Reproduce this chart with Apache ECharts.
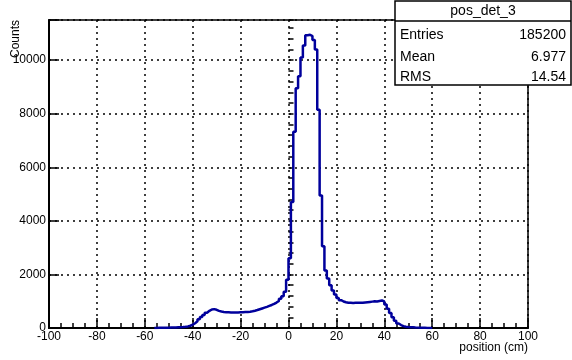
<!DOCTYPE html>
<html><head><meta charset="utf-8">
<script src="https://cdn.jsdelivr.net/npm/echarts@6/dist/echarts.min.js"></script>
<style>html,body{margin:0;padding:0;background:#fff}#c{width:572px;height:360px}</style>
</head><body><div id="c"></div>
<script>
// Histogram: 1 cm bins, lower edge of first listed bin
const firstBinLow = -56;
const binWidth = 1;
const counts = [
  3, 5, 6, 8, 10, 12, 15, 18, 20, 24,          // -56 .. -47
  28, 35, 45, 60, 85, 120, 180, 250, 330, 410,  // -46 .. -37
  490, 570, 640, 690, 705, 680, 640, 615, 600, 590, // -36 .. -27
  585, 580, 578, 582, 580, 585, 590, 595, 600, 610, // -26 .. -17
  625, 645, 670, 700, 730, 760, 790, 825, 860, 900, // -16 .. -7
  950, 1010, 1090, 1190, 1350, 1800,                // -6 .. -1
  2600, 4700, 7330, 8950, 9400, 10100, 10550, 10930, 10950, 10900, // 0 .. 9
  10750, 10400, 8150, 4950, 3050, 2150, 1850, 1600, 1400, 1250,    // 10 .. 19
  1120, 1040, 990, 960, 945, 940, 935, 940, 945, 940,  // 20 .. 29
  945, 955, 965, 975, 985, 995, 990, 1010, 1030, 990,  // 30 .. 39
  880, 720, 560, 400, 270, 170, 110, 70, 50, 38,       // 40 .. 49
  30, 24, 18, 14, 10, 7, 5, 3, 2, 1                    // 50 .. 59
];
const xMin = -100, xMax = 100, xStep = 20;
const yMin = 0, yMax = 11500, yStep = 2000, yMinorStep = 400;
const xTitle = 'position (cm)';
const yTitle = 'Counts';
const statsTitle = 'pos_det_3';
const statsLabels = ['Entries', 'Mean', 'RMS'];
const statsValues = ['185200', '6.977', '14.54'];

const pts = [[firstBinLow, 0]];
counts.forEach((c, i) => pts.push([firstBinLow + i * binWidth, c]));
const lastEdge = firstBinLow + counts.length * binWidth;
pts.push([lastEdge, counts[counts.length - 1]]);
pts.push([lastEdge, 0]);

const FONT = 'Liberation Sans, Arial, sans-serif';
const dotted = { color: '#000', width: 1.5, type: [2, 4] };

const chart = echarts.init(document.getElementById('c'), null, { renderer: 'canvas' });

const statsGraphics = [
  { type: 'rect', shape: { x: 395, y: 1, width: 176, height: 84 },
    style: { fill: '#fff', stroke: '#000', lineWidth: 1.5 }, z: 100 },
  { type: 'line', shape: { x1: 395, y1: 21, x2: 571, y2: 21 },
    style: { stroke: '#000', lineWidth: 1.5 }, z: 101 },
  { type: 'text', x: 483, y: 11, z: 101,
    style: { text: statsTitle, font: '14px ' + FONT, fill: '#000', align: 'center', verticalAlign: 'middle' } }
];
const rowY = [35, 57, 77];
statsLabels.forEach((l, i) => {
  statsGraphics.push({ type: 'text', x: 400, y: rowY[i], z: 101,
    style: { text: l, font: '14px ' + FONT, fill: '#000', align: 'left', verticalAlign: 'middle' } });
  statsGraphics.push({ type: 'text', x: 566, y: rowY[i], z: 101,
    style: { text: statsValues[i], font: '14px ' + FONT, fill: '#000', align: 'right', verticalAlign: 'middle' } });
});

chart.setOption({
  animation: false,
  backgroundColor: '#fff',
  grid: { left: 49, right: 44, top: 20, bottom: 32, show: true, borderColor: '#000', borderWidth: 1.5, backgroundColor: 'transparent' },
  xAxis: {
    type: 'value', min: xMin, max: xMax, interval: xStep,
    axisLine: { show: true, onZero: false, lineStyle: { color: '#000', width: 2 } },
    axisTick: { show: true, inside: true, length: 10, lineStyle: { color: '#000', width: 1.5 } },
    minorTick: { show: true, splitNumber: 4, length: 5, lineStyle: { color: '#000', width: 1.5 } },
    axisLabel: { color: '#000', fontSize: 12, fontFamily: FONT, margin: 3 },
    splitLine: { show: true, lineStyle: dotted }
  },
  yAxis: [
    {
      type: 'value', min: yMin, max: yMax, interval: yStep,
      axisLine: { show: true, onZero: false, lineStyle: { color: '#000', width: 2 } },
      axisTick: { show: true, inside: true, length: 10, lineStyle: { color: '#000', width: 1.5 } },
      axisLabel: { color: '#000', fontSize: 12, fontFamily: FONT, margin: 3,
        formatter: v => (v % yStep === 0 ? String(v) : '') },
      splitLine: { show: true, lineStyle: dotted }
    },
    {
      type: 'value', min: yMin, max: yMax, interval: yMinorStep, position: 'left',
      axisLine: { show: false },
      axisTick: { show: true, inside: true, length: 5, lineStyle: { color: '#000', width: 1.5 } },
      axisLabel: { show: false },
      splitLine: { show: false }
    }
  ],
  graphic: [
    { type: 'text', x: 528, y: 348, style: { text: xTitle, font: '12px ' + FONT, fill: '#000', align: 'right', verticalAlign: 'middle' } },
    { type: 'text', x: 16, y: 20, rotation: Math.PI / 2, style: { text: yTitle, font: '12px ' + FONT, fill: '#000', align: 'right', verticalAlign: 'middle' } }
  ].concat(statsGraphics),
  series: [{
    type: 'line', step: 'end', data: pts, yAxisIndex: 0,
    showSymbol: false, symbol: 'none',
    lineStyle: { color: '#00009c', width: 2.5 },
    z: 5
  }]
});
</script>
</body></html>
